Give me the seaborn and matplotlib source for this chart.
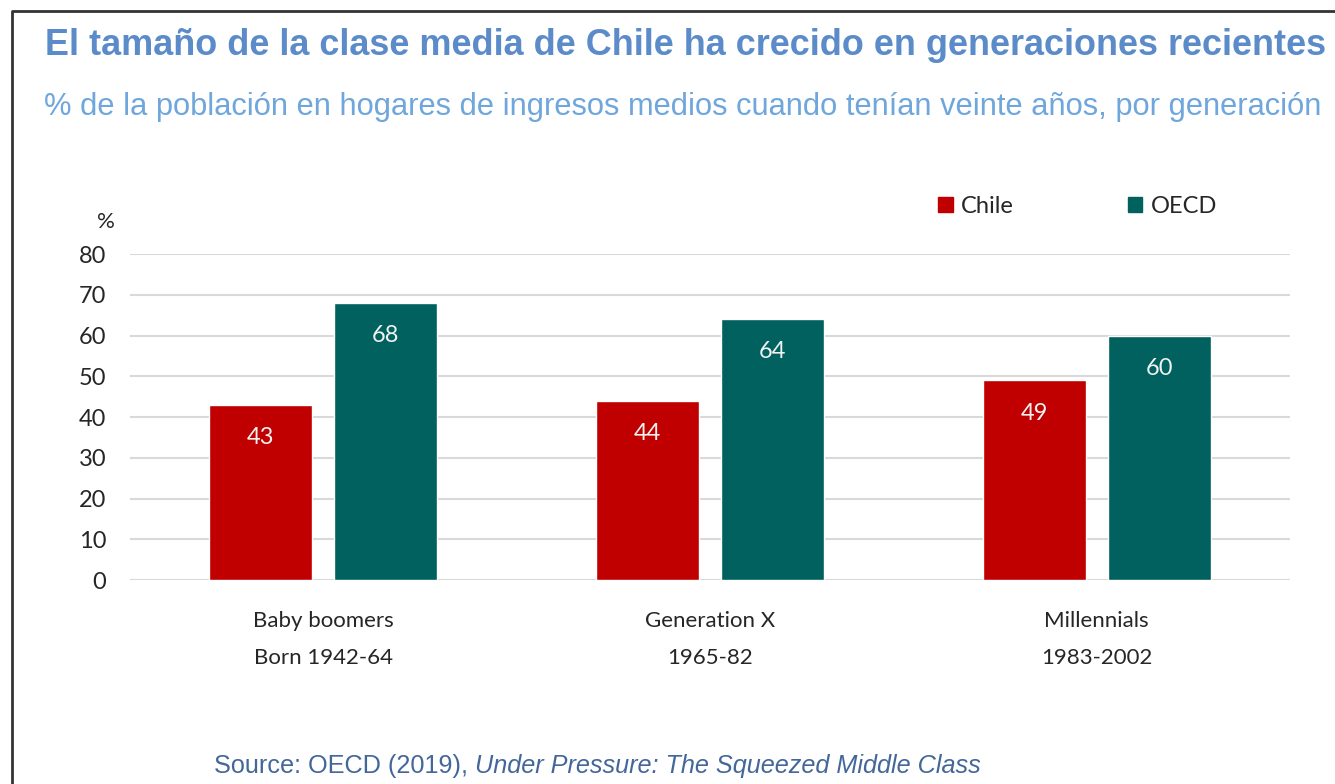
import pandas as pd
import matplotlib.pyplot as plt
import seaborn as sns
from matplotlib.lines import Line2D
from matplotlib import font_manager

# data
generations = ["Baby boomers\nBorn 1942-64", "Generation X\n1965-82", "Millennials\n1983-2002"]
chile = [43, 44, 49]
oecd = [68, 64, 60]
series = ["Chile", "OECD"]
yticks = [0, 10, 20, 30, 40, 50, 60, 70, 80]

title = "El tamaño de la clase media de Chile ha crecido en generaciones recientes"
subtitle = "% de la población en hogares de ingresos medios cuando tenían veinte años, por generación"

df = pd.DataFrame({
    "generation": generations * 2,
    "series": ["Chile"] * 3 + ["OECD"] * 3,
    "value": chile + oecd,
})

sns.set_theme(style="white")
plt.rcParams["font.family"] = ["Lato", "DejaVu Sans"]

# source line uses a narrow face when one is around
try:
    font_manager.findfont("Liberation Sans Narrow", fallback_to_default=False)
    src_family, src_size = ["Liberation Sans Narrow", "DejaVu Sans"], 22
except ValueError:
    src_family, src_size = ["Liberation Sans", "DejaVu Sans"], 18.2

fig = plt.figure(figsize=(13.35, 7.84), dpi=100)
ax = fig.add_axes([0.0974, 0.260, 0.869, 0.416])

palette = {"Chile": "#C00000", "OECD": "#00615E"}
sns.barplot(data=df, x="generation", y="value", hue="series", hue_order=series,
            palette=palette, width=0.646, gap=0.175, saturation=1, ax=ax, legend=False)

ax.set_ylim(0, 80)
ax.set_xlim(-0.5, 2.5)
ax.set_yticks(yticks)
ax.set_xlabel("")
ax.set_ylabel("")
ax.grid(axis="y", color="#D9D9D9", linewidth=1.5)
ax.set_axisbelow(True)
for s in ax.spines.values():
    s.set_visible(False)
ax.tick_params(axis="y", length=0, pad=17, labelsize=17, labelcolor="#262626")
ax.tick_params(axis="x", length=0, pad=22, labelsize=16, labelcolor="#262626")
for lbl in ax.get_xticklabels():
    lbl.set_linespacing(2.05)

# value labels inside the bars near the top
for cont in ax.containers:
    for bar in cont:
        h = bar.get_height()
        ax.text(bar.get_x() + bar.get_width() / 2, h - 8, f"{h:.0f}",
                ha="center", va="center", fontsize=17, color="#F2F2F2")

handles = [plt.Rectangle((0, 0), 1, 1, color=palette[s]) for s in series]
fig.legend(handles, series, loc="center left", bbox_to_anchor=(0.687, 0.737),
           ncol=2, frameon=False, fontsize=17, handlelength=0.62, handleheight=0.62,
           handletextpad=0.35, columnspacing=4.8, labelcolor="#262626")

fig.text(0.079, 0.717, "%", ha="center", va="center", fontsize=16, color="#262626")

fig.text(0.034, 0.930, title, ha="left", va="baseline", fontsize=25.9,
         fontweight="bold", color="#5B8BC9", family=["Liberation Sans", "DejaVu Sans"])
fig.text(0.033, 0.853, subtitle, ha="left", va="baseline", fontsize=22.2,
         color="#6FA6DC", family=["Liberation Sans", "DejaVu Sans"])

src = fig.text(0.160, 0.014, "Source: OECD (2019), ", ha="left", va="baseline",
               fontsize=src_size, color="#44679A", family=src_family)
fig.canvas.draw()
bb = src.get_window_extent()
fig.text(bb.x1 / fig.bbox.width, 0.014, "Under Pressure: The Squeezed Middle Class",
         ha="left", va="baseline", fontsize=src_size, style="italic", color="#44679A",
         family=src_family)

# frame lines on left and top
fig.add_artist(Line2D([0.009, 0.009, 1.0], [0.0, 0.986, 0.986],
                      transform=fig.transFigure, color="#333333", linewidth=2))

fig.savefig("out.png", dpi=100)
